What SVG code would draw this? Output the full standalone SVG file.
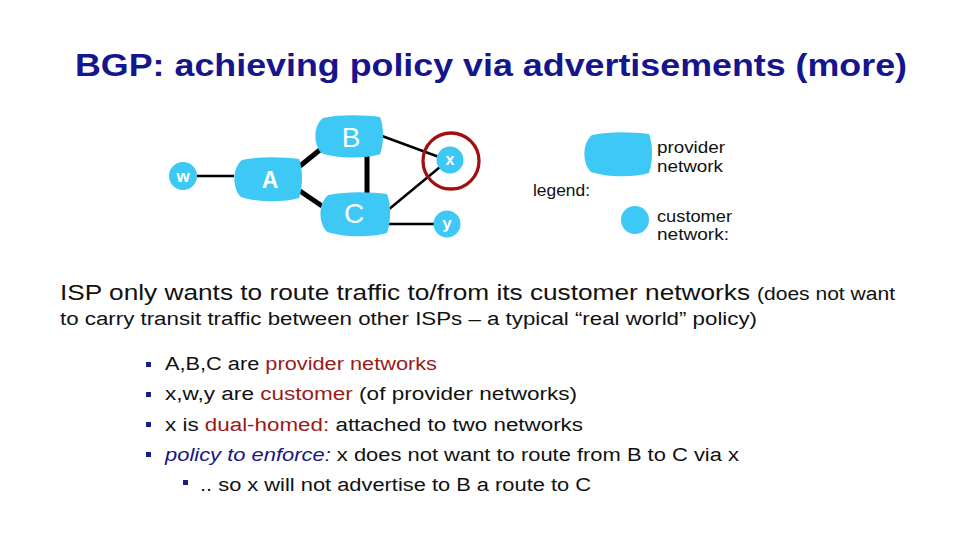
<svg xmlns="http://www.w3.org/2000/svg" width="960" height="540" viewBox="0 0 960 540">
<style>
.t{font-family:"Liberation Sans",Arial,sans-serif}
.title{font-size:32px;font-weight:bold;fill:#15158e}
.body{font-size:18px;fill:#111}
.big{font-size:21.5px;fill:#111}
.red{fill:#9a1a1a}
.blu{fill:#16167e;font-style:italic}
.blob{fill:#3ec8f6}
.lbl{fill:#fff;text-anchor:middle}
.thin{stroke:#000;stroke-width:2.5;fill:none}
.thick{stroke:#000;stroke-width:5;fill:none}
.sq{fill:#1c1c8c}
.leg{font-size:17px;fill:#111}
</style>
<defs>
<path id="blobShape" d="M10,3 C28,-1 52,0 67,2 C71,12 71,30 67,41 C50,46 24,45 9,40 C1,33 -1,12 10,3 Z"/>
</defs>
<rect width="960" height="540" fill="#fff"/>
<text class="t title" x="75" y="76" textLength="832" lengthAdjust="spacingAndGlyphs">BGP: achieving policy via advertisements (more)</text>

<g id="connectors">
<line class="thin" x1="197" y1="176" x2="234" y2="176"/>
<line class="thick" x1="300" y1="166" x2="321" y2="149"/>
<line class="thick" x1="300" y1="191" x2="322" y2="206"/>
<line class="thick" x1="367" y1="156" x2="367" y2="195"/>
<line class="thin" x1="382" y1="136" x2="439" y2="157"/>
<line class="thin" x1="388" y1="210" x2="440" y2="167"/>
<line class="thin" x1="388" y1="224" x2="435" y2="224"/>
</g>

<g id="node-B">
<use href="#blobShape" class="blob" transform="translate(313,115) scale(1,0.96)"/>
<text class="t lbl" x="351" y="147" font-size="28">B</text>
</g>
<g id="node-A">
<use href="#blobShape" class="blob" transform="translate(232,157)"/>
<text class="t lbl" x="270" y="188" font-size="23" font-weight="bold">A</text>
</g>
<g id="node-C">
<use href="#blobShape" class="blob" transform="translate(318,192) scale(1.03,1)"/>
<text class="t lbl" x="354" y="223" font-size="28">C</text>
</g>
<g id="node-w">
<circle class="blob" cx="183" cy="176" r="14"/>
<text class="t lbl" x="183" y="182" font-size="17" font-weight="bold">w</text>
</g>
<g id="node-x">
<circle class="blob" cx="450" cy="160" r="13.5"/>
<circle cx="451" cy="161" r="28" fill="none" stroke="#a01010" stroke-width="3.3"/>
<text class="t lbl" x="450" y="165" font-size="16" font-weight="bold">x</text>
</g>
<g id="node-y">
<circle class="blob" cx="447" cy="224" r="13.5"/>
<text class="t lbl" x="447" y="229" font-size="17" font-weight="bold">y</text>
</g>

<g id="legend">
<text class="t leg" x="533" y="196" textLength="57" lengthAdjust="spacingAndGlyphs">legend:</text>
<use href="#blobShape" class="blob" transform="translate(582,132)"/>
<text class="t leg" x="657" y="153" textLength="68" lengthAdjust="spacingAndGlyphs">provider</text>
<text class="t leg" x="657" y="172" textLength="66" lengthAdjust="spacingAndGlyphs">network</text>
<circle class="blob" cx="635" cy="220" r="14"/>
<text class="t leg" x="657" y="222" textLength="75" lengthAdjust="spacingAndGlyphs">customer</text>
<text class="t leg" x="657" y="240" textLength="72" lengthAdjust="spacingAndGlyphs">network:</text>
</g>

<text class="t big" x="60" y="300" textLength="690" lengthAdjust="spacingAndGlyphs">ISP only wants to route traffic to/from its customer networks</text>
<text class="t body" x="757" y="300" textLength="138" lengthAdjust="spacingAndGlyphs">(does not want</text>
<text class="t body" x="60" y="325" textLength="697" lengthAdjust="spacingAndGlyphs">to carry transit traffic between other ISPs – a typical “real world” policy)</text>

<rect class="sq" x="146" y="362" width="5" height="5"/>
<text class="t body" x="165" y="370" textLength="272" lengthAdjust="spacingAndGlyphs">A,B,C are <tspan class="red">provider networks</tspan></text>
<rect class="sq" x="146" y="392" width="5" height="5"/>
<text class="t body" x="165" y="400" textLength="412" lengthAdjust="spacingAndGlyphs">x,w,y are <tspan class="red">customer</tspan> (of provider networks)</text>
<rect class="sq" x="146" y="422" width="5" height="5"/>
<text class="t body" x="165" y="431" textLength="418" lengthAdjust="spacingAndGlyphs">x is <tspan class="red">dual-homed:</tspan> attached to two networks</text>
<rect class="sq" x="146" y="452" width="5" height="5"/>
<text class="t body" x="165" y="461" textLength="574" lengthAdjust="spacingAndGlyphs"><tspan class="blu">policy to enforce:</tspan> x does not want to route from B to C via x</text>
<rect class="sq" x="183" y="480" width="5" height="5"/>
<text class="t body" x="200" y="491" textLength="391" lengthAdjust="spacingAndGlyphs">.. so x will not advertise to B a route to C</text>
</svg>
